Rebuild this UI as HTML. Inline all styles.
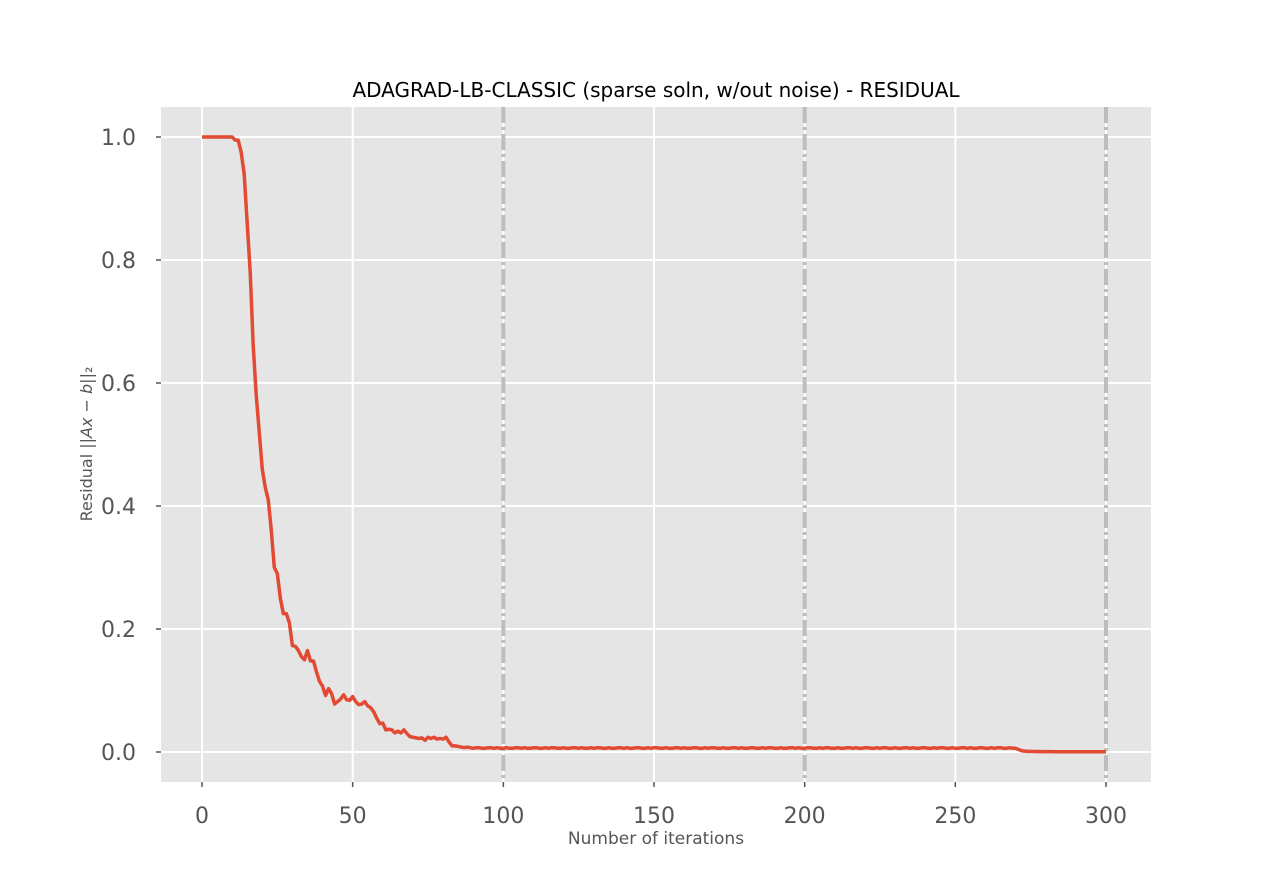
<!DOCTYPE html>
<html><head><meta charset="utf-8"><style>
body{margin:0;background:#fff;width:1280px;height:880px;overflow:hidden}
svg text{font-family:"DejaVu Sans","Liberation Sans",sans-serif}
</style></head><body>
<svg id="chart" width="1280" height="880" xmlns="http://www.w3.org/2000/svg"></svg>
<script>
const xTicks=[0,50,100,150,200,250,300];
const yTicks=[0.0,0.2,0.4,0.6,0.8,1.0];
const yTickLabels=["0.0","0.2","0.4","0.6","0.8","1.0"];
const restartMarks=[100,200,300];
const headValues=[1,1,1,1,1,1,1,1,1,1,1,0.995,0.995,0.975,0.94,0.86,0.78,0.66,0.58,0.52,0.46,0.43,0.41,0.36,0.30,0.29,0.25,0.225,0.225,0.21,0.173,0.172,0.165,0.155,0.15,0.165,0.148,0.148,0.13,0.115,0.107,0.092,0.103,0.095,0.078,0.082,0.086,0.093,0.085,0.084,0.09,0.082,0.077,0.078,0.082,0.075,0.072,0.065,0.055,0.046,0.047,0.036,0.037,0.036,0.031,0.034,0.031,0.036,0.03,0.025,0.024,0.023,0.022,0.023,0.019,0.024,0.022,0.024,0.021,0.022,0.021,0.024,0.016,0.01,0.01,0.009,0.008,0.007,0.008];
const plateauValues=[0.007,0.006,0.007,0.007,0.006,0.006,0.007,0.007,0.006,0.007,0.006,0.006,0.007,0.006,0.006,0.007,0.007,0.006,0.007,0.006,0.006,0.007,0.007,0.006,0.006,0.007,0.006,0.007,0.007,0.006,0.006,0.007,0.006,0.006,0.007,0.007,0.006,0.007,0.006,0.006,0.007,0.006,0.007,0.007,0.006,0.006,0.007,0.006,0.006,0.007,0.007,0.006,0.007,0.006,0.006,0.007,0.007,0.006,0.006,0.007,0.006,0.007,0.007,0.006,0.006,0.007,0.006,0.006,0.007,0.007,0.006,0.007,0.006,0.006,0.007,0.007,0.006,0.006,0.007,0.006,0.007,0.007,0.006,0.006,0.007,0.006,0.006,0.007,0.007,0.006,0.007,0.006,0.006,0.007,0.007,0.006,0.006,0.007,0.006,0.007,0.007,0.006,0.006,0.007,0.006,0.006,0.007,0.007,0.006,0.007,0.006,0.006,0.007,0.007,0.006,0.006,0.007,0.006,0.007,0.007,0.006,0.006,0.007,0.006,0.006,0.007,0.007,0.006,0.007,0.006,0.006,0.007,0.007,0.006,0.006,0.007,0.006,0.007,0.007,0.006,0.006,0.007,0.006,0.006,0.007,0.007,0.006,0.007,0.006,0.006,0.007,0.007,0.006,0.006,0.007,0.006,0.007,0.007,0.006,0.006,0.007,0.006,0.006,0.007,0.007,0.006,0.007,0.006,0.006,0.007,0.007,0.006,0.006,0.007,0.006,0.007,0.007,0.006,0.006,0.007,0.006,0.006];
const tailValues=[0.004,0.002,0.0015,0.001,0.001,0.0008,0.0008,0.0007,0.0007,0.0006,0.0006,0.0006,0.0005,0.0005,0.0005,0.0005,0.0005,0.0004,0.0004,0.0004,0.0004,0.0004,0.0004,0.0004,0.0004,0.0004,0.0004,0.0004,0.0004,0.0003];
const residual=headValues.concat(plateauValues,tailValues);

const NS="http://www.w3.org/2000/svg";
const svg=document.getElementById('chart');
const L=161,R=1151,T=107,B=782;
const xs=v=>202+(v-0)*(1106-202)/300;
const ys=v=>752-v*(752-137);
function mk(tag,attrs,parent){const e=document.createElementNS(NS,tag);for(const k in attrs)e.setAttribute(k,attrs[k]);(parent||svg).appendChild(e);return e;}

const bg=mk('rect',{x:L,y:T,width:R-L,height:B-T,fill:'#e5e5e5'});



xTicks.forEach(t=>{
  const g=mk('line',{x1:xs(t),x2:xs(t),y1:T,y2:B,stroke:'#fff','stroke-width':2});
  
  
  mk('line',{x1:xs(t),x2:xs(t),y1:B,y2:B+5,stroke:'#555','stroke-width':1.5});
  const tx=mk('text',{x:xs(t),y:B+41,'text-anchor':'middle','font-size':22,fill:'#555'});
  tx.textContent=String(t);
  
  
});
yTicks.forEach((t,i)=>{
  const g=mk('line',{x1:L,x2:R,y1:ys(t),y2:ys(t),stroke:'#fff','stroke-width':2});
  
  
  mk('line',{x1:L-5,x2:L,y1:ys(t),y2:ys(t),stroke:'#555','stroke-width':1.5});
  const tx=mk('text',{x:136,y:ys(t)+8,'text-anchor':'end','font-size':22,fill:'#555'});
  tx.textContent=yTickLabels[i];
  
  
});
restartMarks.forEach(t=>{
  const l=mk('line',{x1:xs(t),x2:xs(t),y1:T,y2:B,stroke:'#bdbdbd','stroke-width':4,'stroke-dasharray':'16,4,3,4'});
  
  
});
const pts=residual.map((v,i)=>xs(i).toFixed(2)+','+ys(v).toFixed(2)).join(' ');
const line=mk('polyline',{points:pts,fill:'none',stroke:'#e24a33','stroke-width':3.5,'stroke-linejoin':'round'});



const title=mk('text',{x:656,y:97,'text-anchor':'middle','font-size':20,fill:'#000'});
title.textContent='ADAGRAD-LB-CLASSIC (sparse soln, w/out noise) - RESIDUAL';


const xl=mk('text',{x:656,y:844,'text-anchor':'middle','font-size':17,fill:'#555'});
xl.textContent='Number of iterations';


const yl=mk('text',{x:0,y:0,'text-anchor':'middle','font-size':16,fill:'#555',transform:'translate(92,444) rotate(-90)'});
yl.innerHTML='Residual ||<tspan font-style="italic">Ax</tspan> − <tspan font-style="italic">b</tspan>||₂';


</script>
</body></html>
